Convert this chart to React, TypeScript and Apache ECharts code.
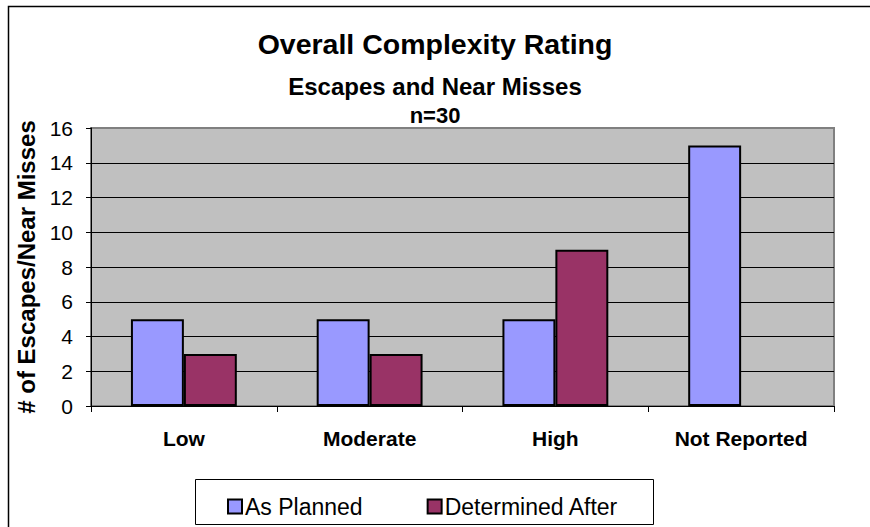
import React, { useEffect, useRef } from "react";
import * as echarts from "echarts";

const categories = ["Low", "Moderate", "High", "Not Reported"];
const asPlanned = [5, 5, 5, 15];
const determinedAfter = [3, 3, 9, 0];
const yTicks = { min: 0, max: 16, interval: 2 };

export default function App() {
  const ref = useRef<HTMLDivElement>(null);
  useEffect(() => {
    if (!ref.current) return;
    const chart = echarts.init(ref.current, null, { renderer: "svg" });
    const font = "Liberation Sans, Arial, sans-serif";
    const nLines = (yTicks.max - yTicks.min) / yTicks.interval + 1;
    const splitColors = Array.from({ length: nLines }, (_, i) => (i === nLines - 1 ? "#808080" : "#000"));
    const barData = (arr: number[]) =>
      arr.map((v) => (v === 0 ? { value: v, itemStyle: { borderWidth: 0 } } : v));
    chart.setOption({
      animation: false,
      backgroundColor: "#ffffff",
      textStyle: { fontFamily: font },
      title: [
        {
          text: "Overall Complexity Rating",
          left: "center",
          top: 24,
          textStyle: { fontSize: 28.5, fontWeight: "bold", color: "#000", fontFamily: font },
        },
        {
          text: "Escapes and Near Misses",
          left: "center",
          top: 69,
          textStyle: { fontSize: 24, fontWeight: "bold", color: "#000", fontFamily: font },
        },
        {
          text: "n=30",
          left: "center",
          top: 99,
          textStyle: { fontSize: 22, fontWeight: "bold", color: "#000", fontFamily: font },
        },
      ],
      graphic: [
        {
          type: "polyline",
          shape: { points: [[8.5, 527], [8.5, 6.5], [870, 6.5]] },
          style: { stroke: "#000", lineWidth: 1.5, fill: "none" },
          silent: true,
        },
        {
          type: "rect",
          shape: { x: 195.5, y: 479.5, width: 458, height: 45 },
          style: { stroke: "#000", lineWidth: 1, fill: "#fff" },
          z: 0,
          silent: true,
        },
      ],
      legend: {
        left: 222,
        top: 490,
        itemWidth: 14,
        itemHeight: 14,
        itemGap: 64,
        icon: "rect",
        textStyle: { fontSize: 23, color: "#000", fontFamily: font, padding: [0, 0, 0, -2] },
        data: ["As Planned", "Determined After"],
        z: 10,
      },
      grid: {
        left: 91,
        right: 36,
        top: 128,
        bottom: 121,
        show: true,
        backgroundColor: "#C0C0C0",
        borderColor: "#808080",
        borderWidth: 2,
      },
      xAxis: {
        type: "category",
        data: categories,
        axisLine: { lineStyle: { color: "#000", width: 1 } },
        axisTick: { show: true, length: 6, inside: false, lineStyle: { color: "#000" } },
        axisLabel: { fontSize: 21, fontWeight: "bold", color: "#000", margin: 22, fontFamily: font },
      },
      yAxis: {
        type: "value",
        min: yTicks.min,
        max: yTicks.max,
        interval: yTicks.interval,
        name: "# of Escapes/Near Misses",
        nameLocation: "middle",
        nameGap: 49,
        nameTextStyle: { fontSize: 24, fontWeight: "bold", color: "#000", fontFamily: font },
        axisLine: { show: true, lineStyle: { color: "#000", width: 1 } },
        axisTick: { show: true, length: 5, lineStyle: { color: "#000" } },
        axisLabel: { fontSize: 21, color: "#000", margin: 18, fontFamily: font },
        splitLine: { show: true, lineStyle: { color: splitColors, width: 1 } },
      },
      series: [
        {
          name: "As Planned",
          type: "bar",
          data: barData(asPlanned),
          barWidth: "28.5%",
          barGap: "0%",
          itemStyle: { color: "#9999FF", borderColor: "#000", borderWidth: 2 },
        },
        {
          name: "Determined After",
          type: "bar",
          data: barData(determinedAfter),
          barWidth: "28.5%",
          barGap: "0%",
          itemStyle: { color: "#993366", borderColor: "#000", borderWidth: 2 },
        },
      ],
    });
    return () => chart.dispose();
  }, []);
  return (
    <div
      ref={ref}
      style={{ position: "absolute", left: 0, top: 0, width: 870, height: 527 }}
    />
  );
}
